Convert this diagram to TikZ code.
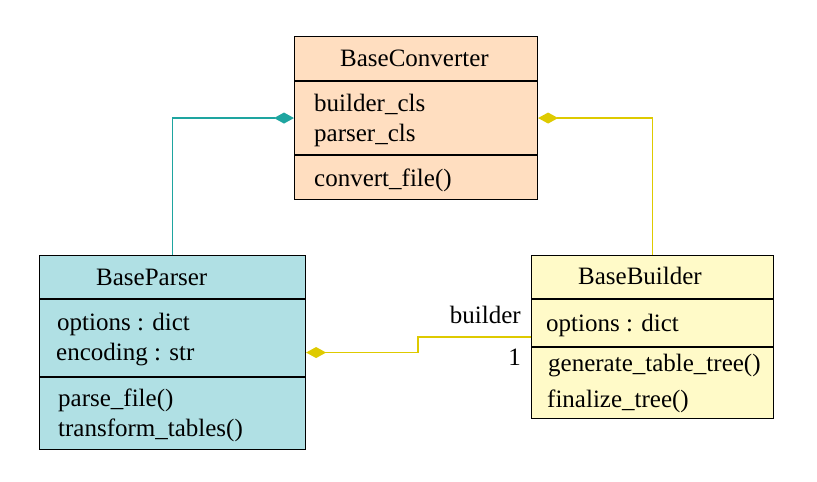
\documentclass[tikz,border=0pt]{standalone}
\usepackage{fontspec}
\setmainfont{Liberation Serif}
\usetikzlibrary{arrows.meta}
\definecolor{convfill}{RGB}{255,222,192}
\definecolor{parsfill}{RGB}{176,224,228}
\definecolor{buildfill}{RGB}{255,250,200}
\definecolor{tealline}{RGB}{30,165,160}
\definecolor{yelline}{RGB}{222,202,0}
\tikzset{
  classbox/.style={draw=black, line width=1.1pt, inner sep=0pt, anchor=north west},
  divider/.style={draw=black, line width=1.1pt},
  txt/.style={font=\fontsize{25}{30}\selectfont, inner sep=0pt},
  member/.style={txt, anchor=base west},
  title/.style={txt, anchor=base},
  comp/.style={line width=1.4pt, -{Diamond[length=20pt,width=11pt,fill=#1]}, draw=#1},
}
\begin{document}
\begin{tikzpicture}[x=1pt,y=-1pt]
\useasboundingbox (0,0) rectangle (817,482);
% BaseConverter
\node[classbox, fill=convfill, minimum width=243pt, minimum height=163pt] (conv) at (294,36) {};
\draw[divider] (294,81) -- (537,81);
\draw[divider] (294,155) -- (537,155);
\node[title] (convT) at (414.5,66) {BaseConverter};
\node[member] (convA1) at (314,111.7) {builder\_cls};
\node[member] (convA2) at (314,141.7) {parser\_cls};
\node[member] (convM1) at (314,186.7) {convert\_file()};
% BaseParser
\node[classbox, fill=parsfill, minimum width=266pt, minimum height=194pt] (pars) at (39,255) {};
\draw[divider] (39,299) -- (305,299);
\draw[divider] (39,377) -- (305,377);
\node[title] (parsT) at (151.7,285) {BaseParser};
\node[member] (parsA1) at (57,330.7) {options : dict};
\node[member] (parsA2) at (56,360.7) {encoding : str};
\node[member] (parsM1) at (58,406.7) {parse\_file()};
\node[member] (parsM2) at (58,436.7) {transform\_tables()};
% BaseBuilder
\node[classbox, fill=buildfill, minimum width=242pt, minimum height=163pt] (build) at (531,255) {};
\draw[divider] (531,299) -- (773,299);
\draw[divider] (531,347) -- (773,347);
\node[title] (buildT) at (640,284.5) {BaseBuilder};
\node[member] (buildA1) at (546,331.2) {options : dict};
\node[member] (buildM1) at (548,371.2) {generate\_table\_tree()};
\node[member] (buildM2) at (547,407) {finalize\_tree()};
% connectors
\draw[comp=tealline] (pars.north) |- (conv.west);
\draw[comp=yelline] (build.north) |- (conv.east);
\draw[comp=yelline] (build.west) -- ++(-113,0) |- (pars.east);
\node[txt, anchor=base east] (lblB) at (521,323) {builder};
\node[txt, anchor=base east] (lbl1) at (521,365) {1};
\end{tikzpicture}
\end{document}
